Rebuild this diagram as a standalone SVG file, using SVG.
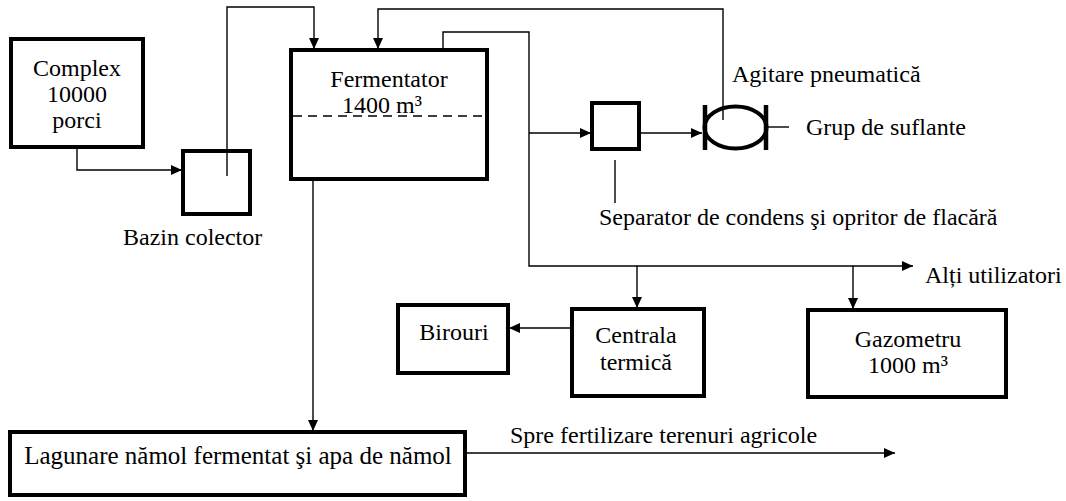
<svg xmlns="http://www.w3.org/2000/svg" width="1066" height="501" viewBox="0 0 1066 501">
<defs>
<marker id="arr" markerUnits="userSpaceOnUse" markerWidth="12" markerHeight="10" refX="11" refY="5" orient="auto">
<path d="M0,0 L11,5 L0,10 z" fill="#000"/>
</marker>
<style>
.box{fill:#fff;stroke:#000;stroke-width:4}
.t{font-family:"Liberation Serif","Times New Roman",serif;font-size:24px;fill:#000}
.c{text-anchor:middle}
.ln{fill:none;stroke:#000;stroke-width:1.4}
.a{marker-end:url(#arr)}
</style>
</defs>
<rect width="1066" height="501" fill="#fff"/>

<g id="connectors">
<polyline class="ln a" points="77,147 77,170 182,170"/>
<polyline class="ln a" points="227,176 227,7 314,7 314,49"/>
<polyline class="ln a" points="723,120 723,9 378,9 378,49"/>
<polyline class="ln a" points="443,50 443,32 529,32 529,266 913,266"/>
<polyline class="ln a" points="529,133 591,133"/>
<polyline class="ln a" points="639,133 702,133"/>
<line class="ln" x1="768" y1="127" x2="789" y2="127"/>
<line class="ln" x1="615" y1="160" x2="615" y2="203"/>
<polyline class="ln a" points="637,266 637,308"/>
<polyline class="ln a" points="853,266 853,309"/>
<polyline class="ln a" points="572,328 509,328"/>
<polyline class="ln a" points="313,179 313,431"/>
<polyline class="ln a" points="465,453 895,453"/>
</g>

<g id="complex">
<rect class="box" x="11" y="39" width="132" height="108"/>
<text class="t c" x="77" y="76">Complex</text>
<text class="t c" x="77" y="102">10000</text>
<text class="t c" x="77" y="128">porci</text>
</g>

<g id="bazin">
<rect class="box" x="183" y="151" width="67" height="63"/>
<line class="ln" x1="227" y1="151" x2="227" y2="176"/>
<text class="t" x="123" y="245">Bazin colector</text>
</g>

<g id="fermentator">
<rect class="box" x="291" y="50" width="196" height="129"/>
<line x1="293" y1="116" x2="485" y2="116" stroke="#000" stroke-width="1.6" stroke-dasharray="9,6"/>
<text class="t c" x="389" y="87">Fermentator</text>
<text class="t c" x="382" y="113">1400 m³</text>
</g>

<g id="separator">
<rect class="box" x="592" y="103" width="47" height="46"/>
<text class="t" x="599" y="225">Separator de condens şi opritor de flacără</text>
</g>

<g id="suflante">
<ellipse cx="735.5" cy="127.5" rx="31" ry="21" fill="#fff" stroke="#000" stroke-width="4"/>
<line x1="705" y1="105" x2="705" y2="150" stroke="#000" stroke-width="4.5"/>
<line x1="766" y1="105" x2="766" y2="150" stroke="#000" stroke-width="4.5"/>
<line class="ln" x1="723" y1="106" x2="723" y2="120"/>
<text class="t" x="732" y="82">Agitare pneumatică</text>
<text class="t" x="806" y="135">Grup de suflante</text>
</g>

<g id="altii">
<text class="t" x="925" y="283">Alți utilizatori</text>
</g>

<g id="birouri">
<rect class="box" x="398" y="305" width="110" height="68"/>
<text class="t c" x="454" y="340">Birouri</text>
</g>

<g id="centrala">
<rect class="box" x="572" y="309" width="132" height="87"/>
<text class="t c" x="636" y="343">Centrala</text>
<text class="t c" x="636" y="370">termică</text>
</g>

<g id="gazometru">
<rect class="box" x="808" y="310" width="198" height="87"/>
<text class="t c" x="908" y="347">Gazometru</text>
<text class="t c" x="908" y="373">1000 m³</text>
</g>

<g id="lagunare">
<rect class="box" x="10" y="432" width="455" height="63"/>
<text class="t c" x="238" y="464" style="font-size:25px">Lagunare nămol fermentat şi apa de nămol</text>
<text class="t" x="510" y="443">Spre fertilizare terenuri agricole</text>
</g>
</svg>
